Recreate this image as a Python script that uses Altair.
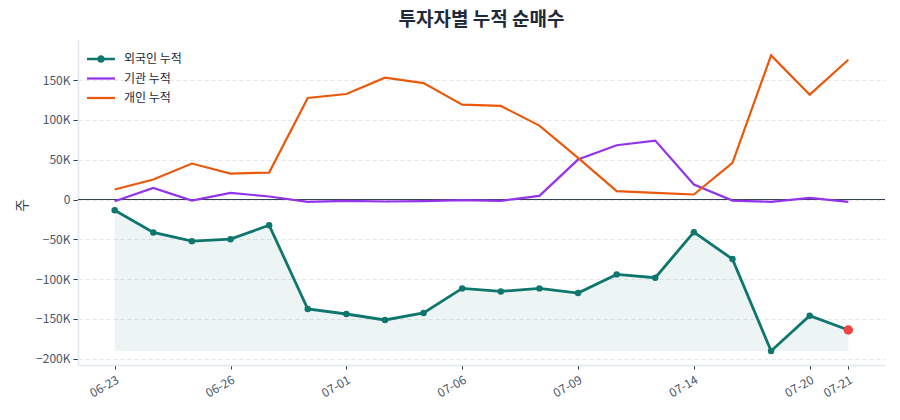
import altair as alt
import pandas as pd

dates = ["06-23", "06-24", "06-25", "06-26", "06-27", "06-30", "07-01", "07-02",
         "07-03", "07-06", "07-07", "07-08", "07-09", "07-10", "07-11", "07-14",
         "07-15", "07-16", "07-20", "07-21"]
foreign = [-13400, -41400, -52300, -49800, -32200, -137600, -143900, -151400,
           -142600, -111700, -115500, -111700, -117600, -94100, -98300, -41000,
           -74900, -190400, -146000, -164000]
institution = [-2100, 14600, -1300, 8400, 3800, -2900, -1800, -2500, -2000, -800,
               -1700, 4600, 50200, 68200, 74100, 18800, -1300, -2900, 2100, -2900]
individual = [12600, 25100, 45200, 32600, 33900, 127600, 132600, 153100, 146400,
              119200, 117600, 92900, 52300, 10500, 8400, 6300, 46000, 181200,
              131800, 175700]
series_names = ["외국인 누적", "기관 누적", "개인 누적"]
series_colors = ["#0f766e", "#9333ea", "#ea580c"]
tick_idx = [0, 3, 6, 9, 12, 15, 18, 19]
y_ticks = [-200000, -150000, -100000, -50000, 0, 50000, 100000, 150000]

FONT = "Noto Sans CJK KR"

rows = []
for name, vals in zip(series_names, [foreign, institution, individual]):
    for i, v in enumerate(vals):
        rows.append({"idx": i, "date": dates[i], "series": name, "value": v})
df = pd.DataFrame(rows)
df_f = df[df.series == series_names[0]].copy()
df_f["base"] = min(foreign)
df_last = df_f[df_f.idx == len(foreign) - 1]

date_arr = "[" + ",".join("'" + d + "'" for d in dates) + "]"

x_enc = alt.X("idx:Q",
              scale=alt.Scale(domain=[-0.95, len(dates) - 1 + 0.95], nice=False, zero=False),
              axis=alt.Axis(values=tick_idx, labelExpr=date_arr + "[datum.value]",
                            labelAngle=330, labelAlign="right", labelBaseline="top",
                            grid=False, title=None, tickColor="#334155", tickSize=4,
                            domainColor="#e2e8f0", domainWidth=1.5, labelColor="#475569",
                            labelFontSize=12, labelPadding=5, labelFont=FONT))
y_scale = alt.Scale(domain=[-208000, 200500], nice=False, zero=False)
y_enc = alt.Y("value:Q", scale=y_scale,
              axis=alt.Axis(values=y_ticks,
                            labelExpr="datum.value == 0 ? '0' : format(datum.value/1000, 'd') + 'K'",
                            grid=True, gridDash=[4, 3], gridColor="#e5e7eb", gridWidth=1,
                            tickColor="#334155", tickSize=5, domainColor="#e2e8f0",
                            domainWidth=1.5, labelColor="#475569", labelFontSize=12,
                            labelPadding=3, title="주", titleFontSize=14,
                            titleFontWeight="normal", titleColor="#334155",
                            titleX=-49, titleY=165, titleAngle=270,
                            labelFont=FONT, titleFont=FONT))

color_scale = alt.Scale(domain=series_names, range=series_colors)

leg = alt.Legend(title=None, orient="none", legendX=16, legendY=12,
                 symbolSize=196, symbolStrokeWidth=0, symbolOpacity=1, labelOffset=16,
                 labelFontSize=12, labelColor="#1e293b", rowPadding=6.5,
                 padding=0, labelFont=FONT)

dot_path = ("M-2,-0.18H2V0.18H-2Z "
            "M0.55,0A0.55,0.55 0 1,1 -0.55,0A0.55,0.55 0 1,1 0.55,0Z")
line_path = "M-2,-0.16H2V0.16H-2Z"

legend_layer = alt.Chart(df).mark_point(filled=True, opacity=0).encode(
    x=x_enc, y=y_enc,
    color=alt.Color("series:N", scale=color_scale, legend=leg),
    shape=alt.Shape("series:N",
                    scale=alt.Scale(domain=series_names,
                                    range=[dot_path, line_path, line_path]),
                    legend=leg))

area = alt.Chart(df_f).mark_area(color="#0f766e", opacity=0.08).encode(
    x=x_enc, y=y_enc, y2="base:Q")

lines = alt.Chart(df).mark_line().encode(
    x=x_enc, y=y_enc,
    color=alt.Color("series:N", scale=color_scale, legend=None),
    size=alt.condition(alt.datum.series == series_names[0], alt.value(2.8), alt.value(2.2)),
    detail="series:N")

zero = alt.Chart(df_f).mark_rule(color="#334155", strokeWidth=1.2).encode(
    y=alt.datum(0))

dots = alt.Chart(df_f).mark_circle(size=42, opacity=1, color="#0f766e").encode(
    x=x_enc, y=y_enc)

last = alt.Chart(df_last).mark_circle(size=90, opacity=1, color="#ef4444").encode(
    x=x_enc, y=y_enc)

chart = alt.layer(legend_layer, area, zero, lines, dots, last).properties(
    width=807, height=325,
    title=alt.TitleParams("투자자별 누적 순매수", fontSize=19, fontWeight="bold",
                          color="#1e293b", anchor="middle", offset=10, font=FONT),
    autosize=alt.AutoSizeParams(type="none"),
    padding={"left": 78, "top": 40, "right": 15, "bottom": 55},
).configure(font=FONT).configure_view(stroke=None)

chart.save("out.html", embed_options={"renderer": "svg", "actions": False})
